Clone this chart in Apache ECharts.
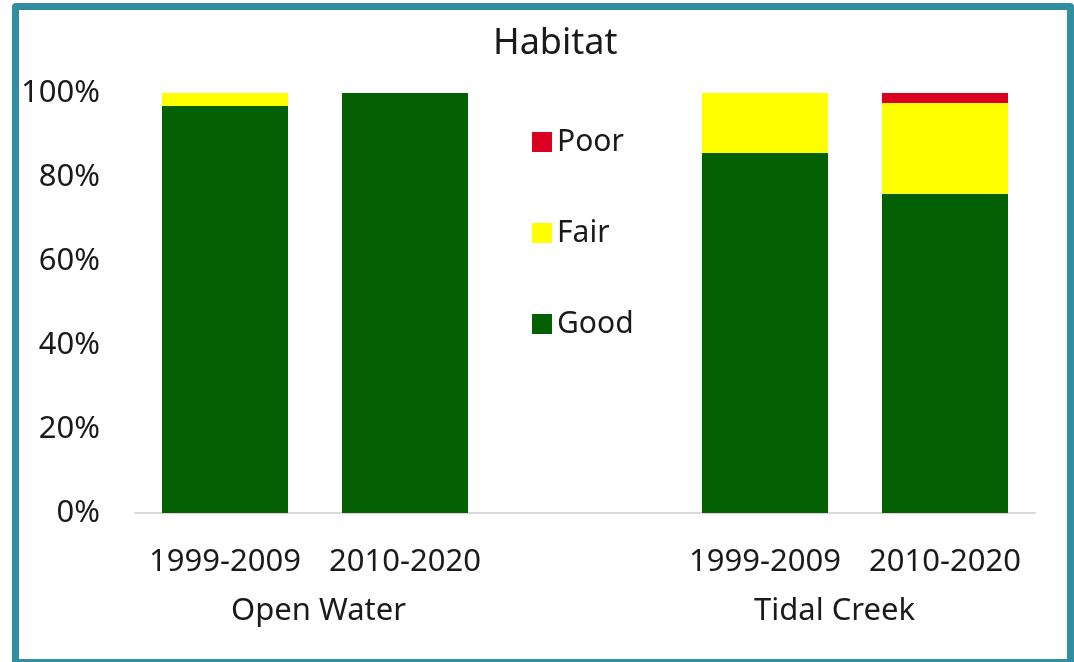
<!DOCTYPE html>
<html>
<head>
<meta charset="utf-8">
<script src="https://cdn.jsdelivr.net/npm/echarts@6/dist/echarts.min.js"></script>
<style>
  html, body { margin: 0; padding: 0; background: #fff; overflow: hidden; }
  #chart { position: absolute; left: 0; top: 0; width: 1074px; height: 662px; }
  #frame {
    position: absolute; left: 12px; top: 3px; width: 1062px; height: 663px;
    box-sizing: border-box; border: 7px solid #318ea0; border-radius: 4px;
    pointer-events: none;
  }
</style>
</head>
<body>
<div id="chart"></div>
<div id="frame"></div>
<script>
// periods per habitat; the blank slot holds the legend
const periods = ['1999-2009', '2010-2020', '', '1999-2009', '2010-2020'];
const habitats = ['Open Water', 'Tidal Creek'];
const good = [96.9, 100, null, 85.7, 76.0];
const fair = [3.1, 0, null, 14.3, 21.6];
const poor = [0, 0, null, 0, 2.4];
const yTicks = [0, 20, 40, 60, 80, 100];

const font = 'Noto Sans';
const textColor = '#1a1a1a';

const chart = echarts.init(document.getElementById('chart'));

function stackSeries(name, data, color) {
  return {
    name: name,
    type: 'bar',
    stack: 'total',
    barWidth: 126,
    data: data,
    itemStyle: { color: color },
    emphasis: { disabled: true }
  };
}

chart.setOption({
  animation: false,
  title: {
    text: 'Habitat',
    left: 488,
    top: 21,
    textStyle: { fontFamily: font, fontSize: 36, fontWeight: 'normal', color: textColor }
  },
  legend: {
    orient: 'vertical',
    left: 527,
    top: 120,
    itemWidth: 20,
    itemHeight: 20,
    itemGap: 57,
    icon: 'rect',
    data: ['Poor', 'Fair', 'Good'],
    textStyle: { fontFamily: font, fontSize: 30, color: textColor, lineHeight: 34 }
  },
  grid: { left: 135, right: 39, top: 93, bottom: 149 },
  xAxis: {
    type: 'category',
    data: periods,
    axisLine: { lineStyle: { color: '#d9d9d9', width: 2 } },
    axisTick: { show: false },
    axisLabel: { interval: 0, margin: 34, fontFamily: font, fontSize: 31, color: textColor }
  },
  yAxis: {
    type: 'value',
    min: 0,
    max: 100,
    interval: 20,
    axisLine: { show: false },
    axisTick: { show: false },
    splitLine: { show: false },
    axisLabel: {
      margin: 35,
      fontFamily: font,
      fontSize: 31,
      color: textColor,
      formatter: v => (yTicks.includes(v) ? v + '%' : '')
    }
  },
  graphic: [
    { type: 'text', left: 316 - 85, top: 596, style: { text: habitats[0], font: '31px "Noto Sans"', fill: textColor, width: 170, align: 'center' } },
    { type: 'text', left: 839 - 85, top: 596, style: { text: habitats[1], font: '31px "Noto Sans"', fill: textColor, width: 170, align: 'center' } }
  ],
  series: [
    stackSeries('Good', good, '#036103'),
    stackSeries('Fair', fair, '#ffff00'),
    stackSeries('Poor', poor, '#dc0020')
  ]
});
</script>
</body>
</html>
